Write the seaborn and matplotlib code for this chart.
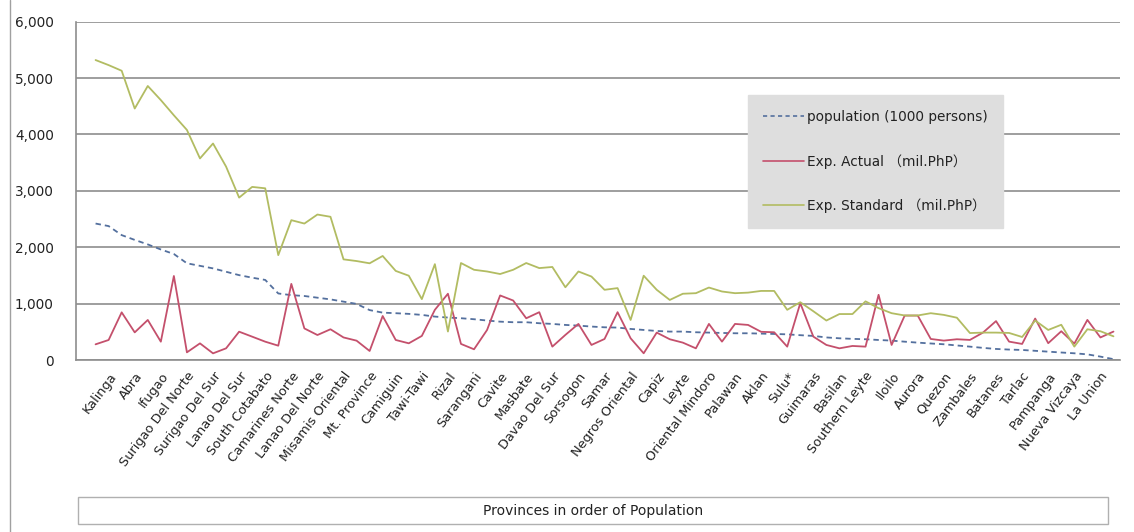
import numpy as np
import pandas as pd
import matplotlib
matplotlib.use("Agg")
import matplotlib.pyplot as plt
from matplotlib.patches import Rectangle
from matplotlib.lines import Line2D
import seaborn as sns

# ---- data (categories 2..80; category 1 is empty) ----
shown_labels = ["Kalinga", "Abra", "Ifugao", "Surigao Del Norte", "Surigao Del Sur",
                "Lanao Del Sur", "South Cotabato", "Camarines Norte", "Lanao Del Norte",
                "Misamis Oriental", "Mt. Province", "Camiguin", "Tawi-Tawi", "Rizal",
                "Sarangani", "Cavite", "Masbate", "Davao Del Sur", "Sorsogon", "Samar",
                "Negros Oriental", "Capiz", "Leyte", "Oriental Mindoro", "Palawan", "Aklan",
                "Sulu*", "Guimaras", "Basilan", "Southern Leyte", "Iloilo", "Aurora",
                "Quezon", "Zambales", "Batanes", "Tarlac", "Pampanga", "Nueva Vizcaya",
                "La Union"]

population = [2420, 2375, 2215, 2130, 2050, 1960, 1880, 1715, 1670, 1625,
              1565, 1505, 1460, 1420, 1180, 1150, 1135, 1105, 1075, 1035,
              995, 885, 840, 830, 818, 800, 770, 753, 741, 723,
              700, 680, 670, 670, 652, 640, 622, 610, 593, 580,
              575, 551, 533, 515, 504, 504, 492, 486, 480, 474,
              474, 468, 462, 455, 440, 427, 400, 385, 375, 368,
              355, 344, 325, 308, 293, 279, 258, 237, 215, 196,
              185, 178, 163, 148, 133, 119, 100, 60, 15]

exp_actual = [278, 355, 845, 490, 710, 325, 1490, 136, 295, 118,
              207, 502, 414, 325, 254, 1350, 560, 443, 545, 400,
              343, 160, 780, 355, 296, 427, 890, 1175, 285, 190,
              533, 1145, 1055, 740, 848, 237, 445, 640, 267, 373,
              848, 385, 119, 486, 368, 308, 207, 640, 326, 640,
              622, 500, 492, 237, 1008, 415, 267, 207, 249, 237,
              1156, 267, 788, 788, 373, 344, 368, 356, 486, 690,
              326, 285, 735, 298, 510, 290, 711, 400, 504]

exp_standard = [5320, 5230, 5130, 4460, 4860, 4610, 4340, 4080, 3575, 3840,
                3430, 2880, 3070, 3045, 1860, 2480, 2420, 2580, 2540, 1785,
                1755, 1715, 1845, 1580, 1495, 1080, 1700, 505, 1720, 1600,
                1570, 1525, 1600, 1720, 1630, 1650, 1290, 1570, 1480, 1245,
                1275, 710, 1495, 1245, 1065, 1175, 1185, 1285, 1215, 1185,
                1195, 1225, 1225, 890, 1025, 865, 700, 815, 815, 1040,
                920, 830, 790, 790, 830, 800, 750, 478, 486, 486,
                480, 408, 700, 533, 625, 237, 545, 510, 420]

series_names = ["population (1000 persons)", "Exp. Actual （mil.PhP）", "Exp. Standard （mil.PhP）"]
colors = ["#54709e", "#c4506c", "#b2bc62"]

n_cat = 80
cat_idx = np.arange(2, n_cat + 1)

df = pd.DataFrame({
    "cat": np.tile(cat_idx, 3),
    "value": np.concatenate([population, exp_actual, exp_standard]),
    "series": np.repeat(series_names, len(cat_idx)),
})

sns.set_theme(style="white")
plt.rcParams["font.family"] = ["DejaVu Sans", "Noto Sans CJK JP"]

W, H = 1134, 532
fig = plt.figure(figsize=(W / 100, H / 100), dpi=100)
ax = fig.add_axes([76 / W, 1 - 360 / H, (1120 - 76) / W, (360 - 21.7) / H])

sns.lineplot(data=df, x="cat", y="value", hue="series", style="series",
             hue_order=series_names, palette=colors,
             dashes={series_names[0]: (3, 2.2), series_names[1]: "", series_names[2]: ""},
             linewidth=1.3, ax=ax, legend=False, sort=False)

ax.set_xlim(0.5, n_cat + 0.5)
ax.set_ylim(0, 6000)
ax.set_yticks(np.arange(0, 6001, 1000))
ax.set_yticklabels([f"{v:,}" for v in range(0, 6001, 1000)], fontsize=9.8, color="#222222")
ax.yaxis.grid(True, color="#8e8e8e", linewidth=1.2)
ax.set_axisbelow(True)

# category boundary ticks
ax.set_xticks(np.arange(0.5, n_cat + 1, 1.0))
ax.set_xticklabels([])
ax.set_xticks(np.arange(3, n_cat + 1, 2), minor=True)
ax.set_xticklabels(shown_labels, minor=True, rotation=53, ha="right",
                   rotation_mode="anchor", fontsize=9.3, color="#222222")
ax.tick_params(axis="x", which="major", length=5, width=1, color="#8e8e8e", direction="out")
ax.tick_params(axis="x", which="minor", length=0, pad=7)
ax.tick_params(axis="y", length=6, width=1, color="#8e8e8e", direction="out", pad=10)

for s in ["top", "right"]:
    ax.spines[s].set_visible(False)
for s in ["left", "bottom"]:
    ax.spines[s].set_color("#8e8e8e")
    ax.spines[s].set_linewidth(1.2)
ax.set_xlabel("")
ax.set_ylabel("")

# legend
handles = [Line2D([], [], color=colors[0], lw=1.2, dashes=(2.5, 2)),
           Line2D([], [], color=colors[1], lw=1.2),
           Line2D([], [], color=colors[2], lw=1.2)]
leg = ax.legend(handles, series_names, loc="upper left",
                bbox_to_anchor=(748 / W, 1 - 95 / H), bbox_transform=fig.transFigure,
                borderaxespad=0, frameon=True, fancybox=False, framealpha=1,
                facecolor="#dedede", edgecolor="#dedede", fontsize=9.8,
                handlelength=3.0, handletextpad=0.25, labelspacing=2.2, borderpad=1.1)
for t in leg.get_texts():
    t.set_color("#222222")

# axis title box
fig.patches.append(Rectangle((78 / W, 1 - 524 / H), (1108 - 78) / W, 27 / H,
                             transform=fig.transFigure, facecolor="white",
                             edgecolor="#b0b0b0", linewidth=1))
fig.text(593 / W, 1 - 511 / H, "Provinces in order of Population", ha="center",
         va="center", fontsize=10, color="#222222")

# left chart border line
fig.add_artist(Line2D([10 / W, 10 / W], [0, 1], transform=fig.transFigure,
                      color="#a0a0a0", linewidth=1))

fig.savefig("out.png", dpi=100, facecolor="white")
